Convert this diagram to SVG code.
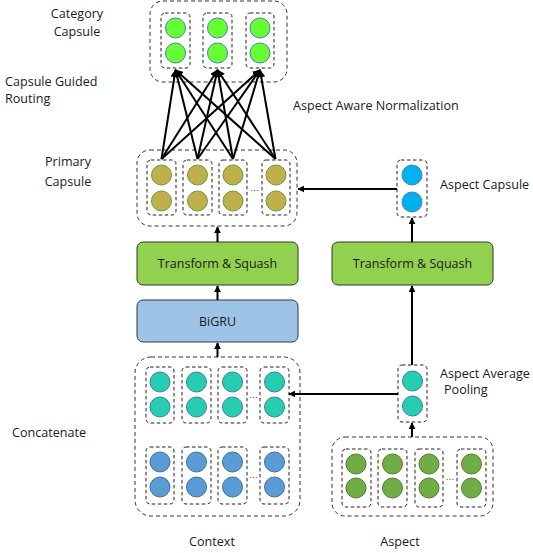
<svg xmlns="http://www.w3.org/2000/svg" width="533" height="553" viewBox="0 0 533 553">
<defs>
<marker id="ahs" viewBox="0 0 10 10" refX="9" refY="5" markerWidth="3.5" markerHeight="3.5" orient="auto" markerUnits="strokeWidth">
<path d="M0,0 L10,5 L0,10 z" fill="#000"/>
</marker>
<marker id="ahr" viewBox="0 0 10 10" refX="9" refY="5" markerWidth="4" markerHeight="4" orient="auto" markerUnits="strokeWidth">
<path d="M0,0 L10,5 L0,10 z" fill="#000"/>
</marker>
</defs>
<style>
.lbl{font-family:"Open Sans","Liberation Sans",sans-serif;font-size:12.6px;fill:#1a1a1a}
.blk{font-family:"Open Sans","Liberation Sans",sans-serif;font-size:12.5px;fill:#1a1a1a;text-anchor:middle}
.outer{fill:none;stroke:#333;stroke-width:1;stroke-dasharray:4 3}
.inner{fill:none;stroke:#222;stroke-width:1;stroke-dasharray:3.5 2.5}
.cat{fill:#66FF33;stroke:#4F7FB0;stroke-width:1}
.pri{fill:#BFB04B;stroke:#6A9A3A;stroke-width:1}
.asp{fill:#00B0F0;stroke:#4F7FB0;stroke-width:1}
.teal{fill:#27CDB0;stroke:#3D7FA8;stroke-width:1}
.blue{fill:#5B9BD5;stroke:#41719C;stroke-width:1}
.grn{fill:#70AD47;stroke:#507E32;stroke-width:1}
.box-g{fill:#92D050;stroke:#2f3b24;stroke-width:1}
.box-b{fill:#9DC3E6;stroke:#2f3b44;stroke-width:1}
.conn{stroke:#000;stroke-width:2;fill:none}
.dots{font-family:"Liberation Sans",sans-serif;font-size:9px;fill:#333;text-anchor:middle}
</style>

<g id="category-capsule">
<rect class="outer" x="150" y="1" width="137" height="81" rx="13"/>
<rect class="inner" x="161" y="13" width="29" height="55" rx="4"/>
<rect class="inner" x="203" y="13" width="29" height="55" rx="4"/>
<rect class="inner" x="246" y="13" width="28" height="55" rx="4"/>
<circle class="cat" cx="175.5" cy="28" r="10"/><circle class="cat" cx="175.5" cy="53" r="10"/>
<circle class="cat" cx="217.5" cy="28" r="10"/><circle class="cat" cx="217.5" cy="53" r="10"/>
<circle class="cat" cx="260" cy="28" r="10"/><circle class="cat" cx="260" cy="53" r="10"/>
</g>

<g id="primary-capsule">
<rect class="outer" x="137" y="150" width="160" height="76" rx="13"/>
<rect class="inner" x="147" y="160" width="29" height="55" rx="4"/>
<rect class="inner" x="183" y="160" width="29" height="55" rx="4"/>
<rect class="inner" x="219" y="160" width="28" height="55" rx="4"/>
<rect class="inner" x="262" y="160" width="28" height="55" rx="4"/>
<circle class="pri" cx="161.5" cy="175" r="10"/><circle class="pri" cx="161.5" cy="201" r="10"/>
<circle class="pri" cx="197.5" cy="175" r="10"/><circle class="pri" cx="197.5" cy="201" r="10"/>
<circle class="pri" cx="233" cy="175" r="10"/><circle class="pri" cx="233" cy="201" r="10"/>
<circle class="pri" cx="276" cy="175" r="10"/><circle class="pri" cx="276" cy="201" r="10"/>
<text class="dots" x="254.5" y="191">…</text>
</g>

<g id="aspect-capsule">
<rect class="inner" x="397" y="160" width="30" height="57" rx="4"/>
<circle class="asp" cx="412" cy="175" r="10"/><circle class="asp" cx="412" cy="202" r="10"/>
</g>

<g id="transform-left">
<rect class="box-g" x="137" y="242" width="161" height="43" rx="6"/>
<text class="blk" x="217.5" y="268">Transform &amp; Squash</text>
</g>

<g id="transform-right">
<rect class="box-g" x="332" y="242" width="161" height="43" rx="6"/>
<text class="blk" x="412.5" y="268">Transform &amp; Squash</text>
</g>

<g id="bigru">
<rect class="box-b" x="137" y="300" width="161" height="42" rx="6"/>
<text class="blk" x="217.5" y="326">BiGRU</text>
</g>

<g id="context">
<rect class="outer" x="135" y="357" width="165" height="159" rx="16"/>
<rect class="inner" x="146" y="367" width="28" height="56" rx="4"/>
<rect class="inner" x="182" y="367" width="29" height="56" rx="4"/>
<rect class="inner" x="218" y="367" width="29" height="56" rx="4"/>
<rect class="inner" x="260" y="367" width="29" height="56" rx="4"/>
<circle class="teal" cx="160" cy="382" r="10"/><circle class="teal" cx="160" cy="407" r="10"/>
<circle class="teal" cx="196.5" cy="382" r="10"/><circle class="teal" cx="196.5" cy="407" r="10"/>
<circle class="teal" cx="232.5" cy="382" r="10"/><circle class="teal" cx="232.5" cy="407" r="10"/>
<circle class="teal" cx="274.5" cy="382" r="10"/><circle class="teal" cx="274.5" cy="407" r="10"/>
<text class="dots" x="253.5" y="398">…</text>
<rect class="inner" x="146" y="447" width="28" height="57" rx="4"/>
<rect class="inner" x="182" y="447" width="29" height="57" rx="4"/>
<rect class="inner" x="218" y="447" width="29" height="57" rx="4"/>
<rect class="inner" x="260" y="447" width="29" height="57" rx="4"/>
<circle class="blue" cx="160" cy="462" r="10"/><circle class="blue" cx="160" cy="487" r="10"/>
<circle class="blue" cx="196.5" cy="462" r="10"/><circle class="blue" cx="196.5" cy="487" r="10"/>
<circle class="blue" cx="232.5" cy="462" r="10"/><circle class="blue" cx="232.5" cy="487" r="10"/>
<circle class="blue" cx="274.5" cy="462" r="10"/><circle class="blue" cx="274.5" cy="487" r="10"/>
<text class="dots" x="253.5" y="478">…</text>
</g>

<g id="aspect-pooling">
<rect class="inner" x="398" y="365" width="29" height="57" rx="4"/>
<circle class="teal" cx="412.5" cy="381" r="10"/><circle class="teal" cx="412.5" cy="406" r="10"/>
</g>

<g id="aspect">
<rect class="outer" x="332" y="437" width="161" height="79" rx="13"/>
<rect class="inner" x="342" y="449" width="29" height="58" rx="4"/>
<rect class="inner" x="378" y="449" width="29" height="58" rx="4"/>
<rect class="inner" x="415" y="449" width="28" height="58" rx="4"/>
<rect class="inner" x="457" y="449" width="29" height="58" rx="4"/>
<circle class="grn" cx="356" cy="464" r="10"/><circle class="grn" cx="356" cy="488" r="10"/>
<circle class="grn" cx="392.5" cy="464" r="10"/><circle class="grn" cx="392.5" cy="488" r="10"/>
<circle class="grn" cx="429" cy="464" r="10"/><circle class="grn" cx="429" cy="488" r="10"/>
<circle class="grn" cx="471.5" cy="464" r="10"/><circle class="grn" cx="471.5" cy="488" r="10"/>
<text class="dots" x="450" y="480">…</text>
</g>

<g id="connectors">
<g class="conn" marker-end="url(#ahr)">
<line x1="161.5" y1="159" x2="175.5" y2="70"/>
<line x1="161.5" y1="159" x2="217.5" y2="70"/>
<line x1="161.5" y1="159" x2="260" y2="70"/>
<line x1="197.5" y1="159" x2="175.5" y2="70"/>
<line x1="197.5" y1="159" x2="217.5" y2="70"/>
<line x1="197.5" y1="159" x2="260" y2="70"/>
<line x1="233" y1="159" x2="175.5" y2="70"/>
<line x1="233" y1="159" x2="217.5" y2="70"/>
<line x1="233" y1="159" x2="260" y2="70"/>
<line x1="275.5" y1="159" x2="175.5" y2="70"/>
<line x1="275.5" y1="159" x2="217.5" y2="70"/>
<line x1="275.5" y1="159" x2="260" y2="70"/>
</g>
<g class="conn" marker-end="url(#ahs)">
<line x1="217.5" y1="242" x2="217.5" y2="227"/>
<line x1="217.5" y1="300" x2="217.5" y2="286"/>
<line x1="217.5" y1="357" x2="217.5" y2="343"/>
<line x1="412" y1="242" x2="412" y2="218"/>
<line x1="412" y1="365" x2="412" y2="286"/>
<line x1="412" y1="437" x2="412" y2="423"/>
<line x1="397" y1="189" x2="298" y2="189"/>
<line x1="398" y1="394" x2="289" y2="394"/>
</g>
</g>

<g id="labels">
<text class="lbl" x="77" y="18" text-anchor="middle">Category</text>
<text class="lbl" x="77" y="36" text-anchor="middle">Capsule</text>
<text class="lbl" x="5" y="86">Capsule Guided</text>
<text class="lbl" x="5" y="103">Routing</text>
<text class="lbl" x="68" y="166" text-anchor="middle">Primary</text>
<text class="lbl" x="68" y="186" text-anchor="middle">Capsule</text>
<text class="lbl" x="12" y="437">Concatenate</text>
<text class="lbl" x="293" y="110">Aspect Aware Normalization</text>
<text class="lbl" x="440" y="189">Aspect Capsule</text>
<text class="lbl" x="440" y="378">Aspect Average</text>
<text class="lbl" x="444" y="394">Pooling</text>
<text class="lbl" x="212" y="546" text-anchor="middle">Context</text>
<text class="lbl" x="400" y="546" text-anchor="middle">Aspect</text>
</g>
</svg>
